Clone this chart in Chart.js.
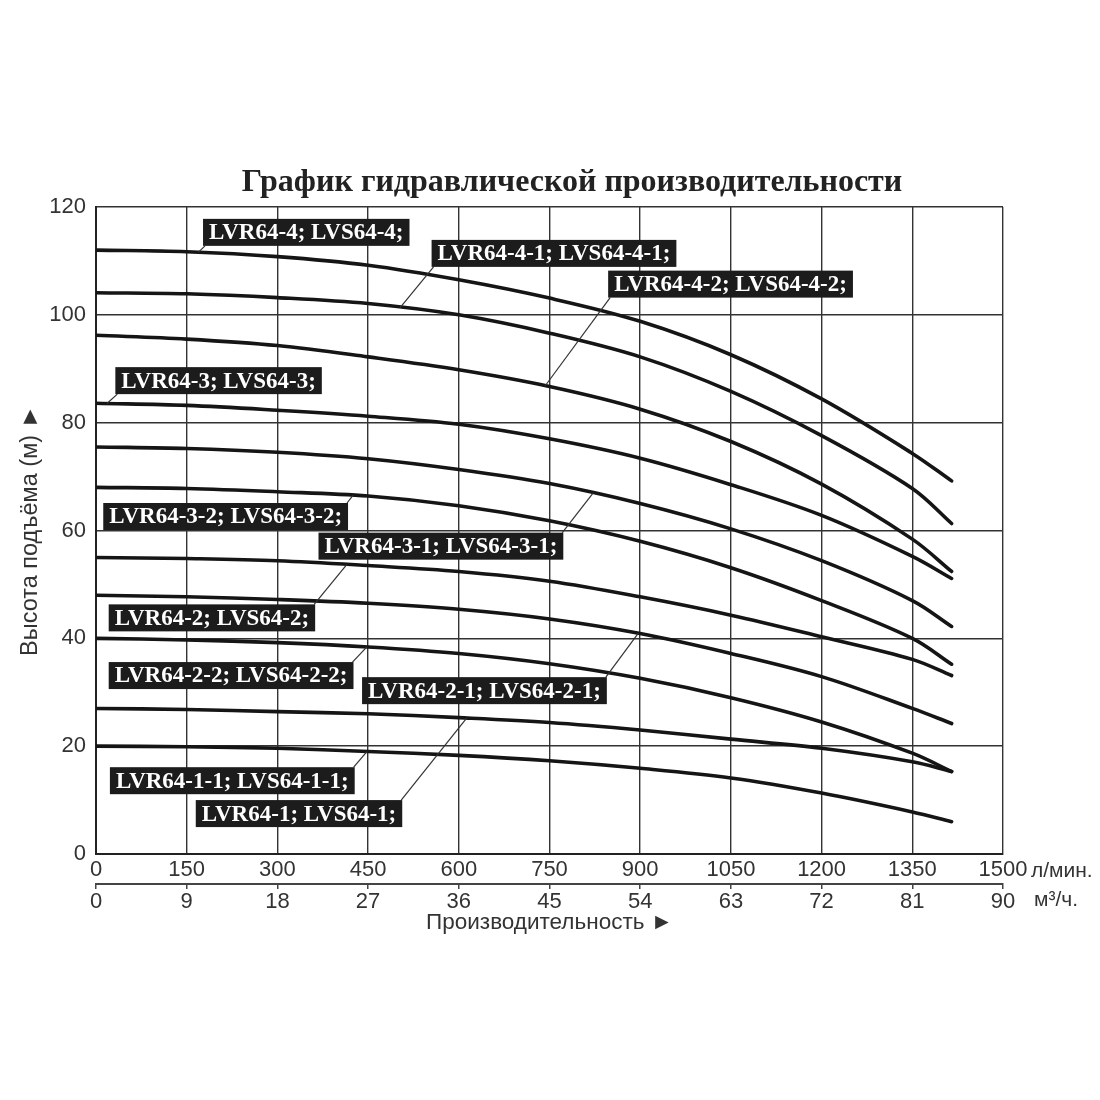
<!DOCTYPE html>
<html lang="ru">
<head>
<meta charset="utf-8">
<title>График гидравлической производительности</title>
<script src="https://cdn.jsdelivr.net/npm/chart.js@4.4.1/dist/chart.umd.min.js"></script>
<style>
  html, body { margin: 0; padding: 0; background: #fff; }
  #wrap { width: 1100px; height: 1100px; }
</style>
</head>
<body>
<div id="wrap"><canvas id="perfChart" width="1100" height="1100"></canvas></div>
<script>
// Flow points (l/min)
const flowLmin = [0, 150, 300, 450, 600, 750, 900, 1050, 1200, 1350, 1415];

// Head (m) per pump model
const head64_4   = [112.0, 111.7, 110.8, 109.2, 106.5, 103.1, 98.8, 92.6, 84.4, 74.3, 69.2];
const head64_4_1 = [104.1, 103.9, 103.2, 102.1, 100.0, 96.6, 92.2, 85.8, 77.6, 67.8, 61.3];
const head64_4_2 = [96.2, 95.5, 94.3, 92.2, 89.8, 86.7, 82.5, 76.5, 68.6, 58.4, 52.4];
const head64_3   = [83.6, 83.2, 82.3, 81.2, 79.7, 77.0, 73.4, 68.5, 62.8, 55.2, 51.1];
const head64_3_1 = [75.5, 75.2, 74.5, 73.3, 71.3, 68.7, 65.0, 60.3, 54.4, 47.0, 42.2];
const head64_3_2 = [68.0, 67.8, 67.2, 66.4, 64.6, 61.8, 58.0, 53.1, 47.0, 40.0, 35.2];
const head64_2   = [55.0, 54.8, 54.4, 53.5, 52.4, 50.6, 47.7, 44.3, 40.3, 36.1, 33.1];
const head64_2_1 = [48.0, 47.7, 47.2, 46.5, 45.4, 43.6, 40.9, 37.2, 32.9, 27.0, 24.2];
const head64_2_2 = [40.0, 39.7, 39.2, 38.4, 37.2, 35.3, 32.6, 29.0, 24.5, 18.7, 15.3];
const head64_1   = [27.0, 26.8, 26.4, 26.0, 25.3, 24.4, 23.0, 21.3, 19.6, 17.1, 15.3];
const head64_1_1 = [20.0, 19.9, 19.6, 19.0, 18.3, 17.3, 15.9, 14.1, 11.3, 7.8, 6.0];

const seriesHeads = [head64_4, head64_4_1, head64_4_2, head64_3, head64_3_1, head64_3_2,
                     head64_2, head64_2_1, head64_2_2, head64_1, head64_1_1];
const seriesLabels = [
    'LVR64-4; LVS64-4;', 'LVR64-4-1; LVS64-4-1;', 'LVR64-4-2; LVS64-4-2;',
    'LVR64-3; LVS64-3;', 'LVR64-3-1; LVS64-3-1;', 'LVR64-3-2; LVS64-3-2;',
    'LVR64-2; LVS64-2;', 'LVR64-2-1; LVS64-2-1;', 'LVR64-2-2; LVS64-2-2;',
    'LVR64-1; LVS64-1;', 'LVR64-1-1; LVS64-1-1;'
];

// Axis ticks
const flowTicks = [0, 150, 300, 450, 600, 750, 900, 1050, 1200, 1350, 1500];
const m3hTicks = [0, 9, 18, 27, 36, 45, 54, 63, 72, 81, 90];
const headTicks = [0, 20, 40, 60, 80, 100, 120];

const chartTitle = 'График гидравлической производительности';
const yTitle = 'Высота подъёма (м) ►';
const xTitle = 'Производительность ►';
const flowUnit = 'л/мин.';
const m3hUnit = 'м³/ч.';

// Callout boxes: top-left corner in data units, leader corner, and flow where the leader hits its curve
const calloutLayout = [
    { series: 0,  at: [177, 117.8], corner: 'bl', target: 169 },
    { series: 1,  at: [555, 113.9], corner: 'bl', target: 503 },
    { series: 2,  at: [847, 108.2], corner: 'bl', target: 743 },
    { series: 3,  at: [32, 90.3],   corner: 'bl', target: 18 },
    { series: 5,  at: [12, 65.1],   corner: 'tr', target: 425 },
    { series: 4,  at: [368, 59.6],  corner: 'tr', target: 822 },
    { series: 6,  at: [21, 46.3],   corner: 'tr', target: 415 },
    { series: 8,  at: [21, 35.6],   corner: 'tr', target: 448 },
    { series: 7,  at: [440, 32.8],  corner: 'tr', target: 897 },
    { series: 10, at: [23, 16.1],   corner: 'tr', target: 448 },
    { series: 9,  at: [165, 10.0],  corner: 'tr', target: 613 }
];

function headAt(vals, flow) {
    for (let i = 1; i < flowLmin.length; i++) {
        if (flow <= flowLmin[i]) {
            const t = (flow - flowLmin[i - 1]) / (flowLmin[i] - flowLmin[i - 1]);
            return vals[i - 1] + t * (vals[i] - vals[i - 1]);
        }
    }
    return vals[vals.length - 1];
}

const sansFont = '"Liberation Sans", Arial, sans-serif';
const serifFont = '"Liberation Serif", "Times New Roman", serif';

const whiteBg = {
    id: 'whiteBg',
    beforeDraw(chart) {
        const { ctx, width, height } = chart;
        ctx.save();
        ctx.fillStyle = '#fff';
        ctx.fillRect(0, 0, width, height);
        ctx.restore();
    }
};

const callouts = {
    id: 'callouts',
    afterDatasetsDraw(chart) {
        const { ctx, scales: { x, y } } = chart;
        ctx.save();
        ctx.font = 'bold 23px ' + serifFont;
        calloutLayout.forEach(c => {
            const text = seriesLabels[c.series];
            const bx = x.getPixelForValue(c.at[0]);
            const by = y.getPixelForValue(c.at[1]);
            const w = ctx.measureText(text).width + 12;
            const h = 27;
            const tx = x.getPixelForValue(c.target);
            const ty = y.getPixelForValue(headAt(seriesHeads[c.series], c.target));
            const ox = c.corner === 'tr' ? bx + w - 1 : bx + 2;
            const oy = c.corner === 'tr' ? by : by + h;

            ctx.strokeStyle = '#333';
            ctx.lineWidth = 1.2;
            ctx.beginPath();
            ctx.moveTo(ox, oy);
            ctx.lineTo(tx, ty);
            ctx.stroke();

            ctx.fillStyle = '#1c1c1c';
            ctx.fillRect(bx, by, w, h);
            ctx.fillStyle = '#fff';
            ctx.textAlign = 'left';
            ctx.textBaseline = 'middle';
            ctx.fillText(text, bx + 6, by + h / 2 + 1);
        });
        ctx.restore();
    }
};

const extras = {
    id: 'extras',
    afterDraw(chart) {
        const { ctx, scales: { x, x2 } } = chart;
        ctx.save();
        ctx.fillStyle = '#222';
        ctx.font = 'bold 32px ' + serifFont;
        ctx.textAlign = 'center';
        ctx.textBaseline = 'middle';
        ctx.fillText(chartTitle, 572, 183);

        ctx.fillStyle = '#333';
        ctx.font = '21px ' + sansFont;
        ctx.textAlign = 'left';
        ctx.fillText(flowUnit, x.right + 28, x.top + 17);
        ctx.fillText(m3hUnit, x.right + 31, x2.top + 16);
        ctx.restore();
    }
};

const datasets = seriesHeads.map((vals, i) => ({
    label: seriesLabels[i],
    data: flowLmin.map((f, j) => ({ x: f, y: vals[j] })),
    borderColor: '#151515',
    borderWidth: 3.6,
    borderCapStyle: 'round',
    pointRadius: 0,
    fill: false,
    tension: 0.35
}));

const plainTick = v => String(v);

new Chart(document.getElementById('perfChart').getContext('2d'), {
    type: 'line',
    data: { datasets },
    options: {
        responsive: false,
        animation: false,
        layout: { padding: { top: 207, right: 97, bottom: 146, left: 0 } },
        plugins: { legend: { display: false }, tooltip: { enabled: false }, title: { display: false } },
        scales: {
            x: {
                type: 'linear', position: 'bottom', weight: 0, min: 0, max: 1500,
                afterBuildTicks: s => { s.ticks = flowTicks.map(v => ({ value: v })); },
                afterFit: s => { s.height = 30; },
                ticks: { color: '#333', font: { family: sansFont, size: 22 }, padding: 3, maxRotation: 0, autoSkip: false, callback: plainTick },
                grid: { color: '#333', lineWidth: 1.4, drawTicks: false },
                border: { display: true, color: '#222', width: 2 }
            },
            x2: {
                type: 'linear', position: 'bottom', weight: 1, min: 0, max: 90,
                afterBuildTicks: s => { s.ticks = m3hTicks.map(v => ({ value: v })); },
                afterFit: s => { s.height = 70; },
                ticks: { color: '#333', font: { family: sansFont, size: 22 }, padding: 0, maxRotation: 0, autoSkip: false, callback: plainTick },
                grid: { drawOnChartArea: false, drawTicks: true, tickLength: 5, color: '#444', lineWidth: 1.5 },
                border: { display: true, color: '#444', width: 2 },
                title: { display: true, text: xTitle, color: '#333', font: { family: sansFont, size: 22.5 }, padding: { top: 0, bottom: 18 } }
            },
            y: {
                type: 'linear', position: 'left', min: 0, max: 120,
                afterBuildTicks: s => { s.ticks = headTicks.map(v => ({ value: v })); },
                afterFit: s => { s.width = 96; },
                ticks: { color: '#333', font: { family: sansFont, size: 22 }, padding: 10, callback: plainTick },
                grid: { color: '#333', lineWidth: 1.4, drawTicks: false },
                border: { display: true, color: '#222', width: 2 },
                title: { display: true, text: yTitle, color: '#333', font: { family: sansFont, size: 23.5 }, padding: { top: 16, bottom: 0 } }
            }
        }
    },
    plugins: [whiteBg, callouts, extras]
});
</script>
</body>
</html>
